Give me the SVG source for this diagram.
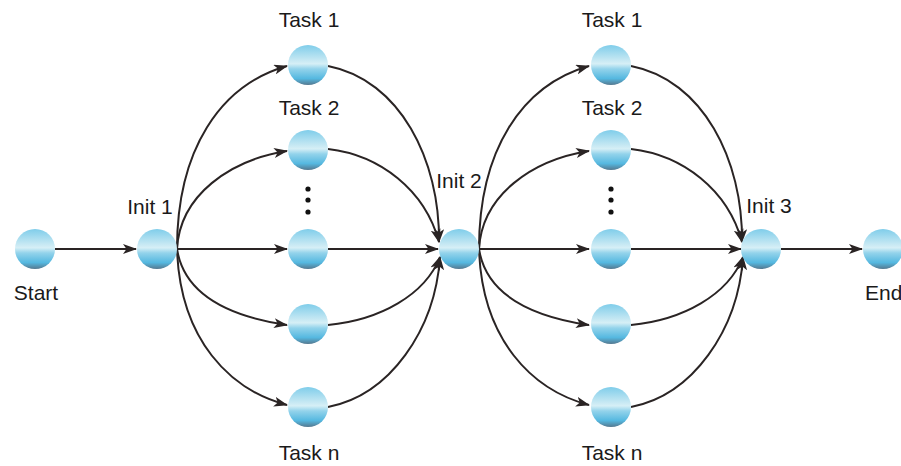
<svg xmlns="http://www.w3.org/2000/svg" width="901" height="466" viewBox="0 0 901 466">
<defs>
<linearGradient id="ball" x1="0" y1="0" x2="0" y2="1">
<stop offset="0" stop-color="#7fcdea"/>
<stop offset="0.38" stop-color="#c6e8f3"/>
<stop offset="0.47" stop-color="#d6eff6"/>
<stop offset="0.6" stop-color="#93d3eb"/>
<stop offset="0.84" stop-color="#55b8e0"/>
<stop offset="1" stop-color="#55788f"/>
</linearGradient>
<marker id="arr" viewBox="0 0 14 10" refX="13" refY="5" markerWidth="14" markerHeight="10" markerUnits="userSpaceOnUse" orient="auto">
<path d="M0,0 L14,5 L0,10 L3.5,5 Z" fill="#2a2424"/>
</marker>
<style>
.n{fill:url(#ball)}
.t{font-family:"Liberation Sans",Arial,sans-serif;font-size:21px;fill:#1a1a1a}
.c{fill:none;stroke:#2a2424;stroke-width:2;marker-end:url(#arr)}
.d{fill:#111}
</style>
</defs>
<g id="connectors">
<path class="c" d="M55,249 L136,249"/>
<path class="c" d="M177,249 C177,150 220,85 287,66"/>
<path class="c" d="M177,249 C180,195 230,160 287,151"/>
<path class="c" d="M177,249 L287,249"/>
<path class="c" d="M177,249 C185,300 240,318 287,325"/>
<path class="c" d="M177,249 C180,340 230,390 287,405"/>
<path class="c" d="M328,66 C400,80 440,160 439,242"/>
<path class="c" d="M328,149 C380,155 425,190 439,242"/>
<path class="c" d="M328,249 L438,249"/>
<path class="c" d="M328,325 C380,320 425,295 440,257"/>
<path class="c" d="M328,407 C390,395 435,330 440,257"/>
<path class="c" d="M479,249 C479,150 522,85 589,66"/>
<path class="c" d="M479,249 C482,195 532,160 589,151"/>
<path class="c" d="M479,249 L589,249"/>
<path class="c" d="M479,249 C487,300 542,318 589,325"/>
<path class="c" d="M479,249 C482,340 532,390 589,405"/>
<path class="c" d="M631,66 C703,80 743,160 742,242"/>
<path class="c" d="M631,149 C683,155 728,190 742,242"/>
<path class="c" d="M631,249 L741,249"/>
<path class="c" d="M631,325 C683,320 728,295 743,257"/>
<path class="c" d="M631,407 C693,395 738,330 743,257"/>
<path class="c" d="M781,249 L862,249"/>
</g>
<g id="start"><circle class="n" cx="35" cy="249" r="20"/><text class="t" x="36" y="300" text-anchor="middle">Start</text></g>
<g id="init1"><circle class="n" cx="157" cy="249" r="20"/><text class="t" x="150" y="214" text-anchor="middle">Init 1</text></g>
<g id="a-task1"><circle class="n" cx="308" cy="65" r="20"/><text class="t" x="309" y="27" text-anchor="middle">Task 1</text></g>
<g id="a-task2"><circle class="n" cx="308" cy="150" r="20"/><text class="t" x="309" y="115" text-anchor="middle">Task 2</text></g>
<g id="a-dots"><circle class="d" cx="308" cy="189" r="2.6"/><circle class="d" cx="308" cy="200" r="2.6"/><circle class="d" cx="308" cy="212" r="2.6"/></g>
<g id="a-task3"><circle class="n" cx="308" cy="249" r="20"/></g>
<g id="a-task4"><circle class="n" cx="308" cy="324" r="20"/></g>
<g id="a-taskn"><circle class="n" cx="308" cy="407" r="20"/><text class="t" x="309" y="460" text-anchor="middle">Task n</text></g>
<g id="init2"><circle class="n" cx="459" cy="249" r="20"/><text class="t" x="459" y="188" text-anchor="middle">Init 2</text></g>
<g id="b-task1"><circle class="n" cx="611" cy="65" r="20"/><text class="t" x="612" y="27" text-anchor="middle">Task 1</text></g>
<g id="b-task2"><circle class="n" cx="611" cy="150" r="20"/><text class="t" x="612" y="115" text-anchor="middle">Task 2</text></g>
<g id="b-dots"><circle class="d" cx="611" cy="189" r="2.6"/><circle class="d" cx="611" cy="200" r="2.6"/><circle class="d" cx="611" cy="212" r="2.6"/></g>
<g id="b-task3"><circle class="n" cx="611" cy="249" r="20"/></g>
<g id="b-task4"><circle class="n" cx="611" cy="324" r="20"/></g>
<g id="b-taskn"><circle class="n" cx="611" cy="407" r="20"/><text class="t" x="612" y="460" text-anchor="middle">Task n</text></g>
<g id="init3"><circle class="n" cx="761" cy="249" r="20"/><text class="t" x="769" y="213" text-anchor="middle">Init 3</text></g>
<g id="end"><circle class="n" cx="883" cy="249" r="20"/><text class="t" x="865" y="300">End</text></g>
</svg>
